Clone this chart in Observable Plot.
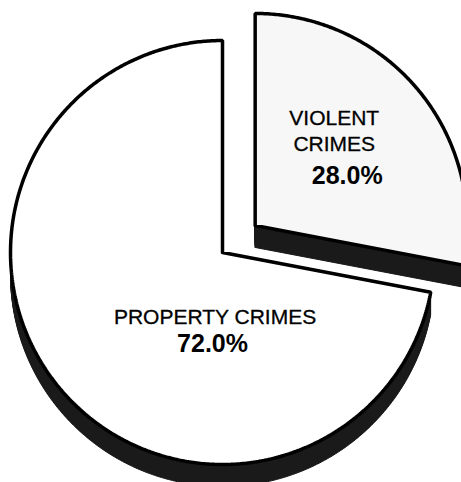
<!DOCTYPE html>
<html><head><meta charset="utf-8">
<script src="https://cdn.jsdelivr.net/npm/d3@7"></script>
<script src="https://cdn.jsdelivr.net/npm/@observablehq/plot@0.6"></script>
<style>html,body{margin:0;padding:0;background:#fff;overflow:hidden}</style>
</head><body><div id="chart"></div>
<script>
// ---- data ----
const categories = ["VIOLENT CRIMES", "PROPERTY CRIMES"];
const nameLines = ["VIOLENT\nCRIMES", "PROPERTY CRIMES"];
const percentages = [28.0, 72.0];
const percentLabels = ["28.0%", "72.0%"];
const exploded = [true, false];

// ---- layout ----
const W = 461, H = 482;
const R = 212;              // pie radius in px
const CX = 222, CY = 252;   // pie centre in px
const explodeBy = 0.2;      // fraction of radius
const depth = 22 / R;       // 3D thickness
const steps = 22;
const faceFill = ["#f7f7f7", "#ffffff"];
const sideFill = "#1a1a1a";
const labelOffsets = [
  {name: [0.373, 0.352], pct: [0.434, 0.195]},
  {name: [-0.035, -0.335], pct: [-0.047, -0.467]}
];

const total = d3.sum(percentages);
let acc = 0;
const slices = categories.map((c, i) => {
  const a0 = acc / total * 2 * Math.PI; acc += percentages[i];
  const a1 = acc / total * 2 * Math.PI;
  const mid = (a0 + a1) / 2;
  return {i, c, a0, a1,
    ox: exploded[i] ? explodeBy * Math.sin(mid) : 0,
    oy: exploded[i] ? explodeBy * Math.cos(mid) : 0};
});
function outline(s, dy, id) {
  const pts = [{x: s.ox, y: s.oy - dy, id}];
  const n = Math.ceil((s.a1 - s.a0) / (Math.PI / 180) * 2);
  for (let k = 0; k <= n; k++) {
    const a = s.a0 + (s.a1 - s.a0) * k / n;
    pts.push({x: s.ox + Math.sin(a), y: s.oy + Math.cos(a) - dy, id});
  }
  pts.push({x: s.ox, y: s.oy - dy, id});
  return pts;
}
const sides = slices.flatMap(s => d3.range(1, steps + 1).flatMap(j => outline(s, depth * j / steps, `${s.i}-${j}`)));
const faces = slices.flatMap(s => outline(s, 0, s.i));

const font = "'Liberation Sans', Arial, Helvetica, sans-serif";
const chart = Plot.plot({
  width: W, height: H, margin: 0,
  x: {domain: [-CX / R, (W - CX) / R], axis: null},
  y: {domain: [(CY - H) / R, CY / R], axis: null},
  style: {background: "#fff"},
  marks: [
    Plot.line(sides, {x: "x", y: "y", z: "id", fill: sideFill, stroke: sideFill, strokeWidth: 1, curve: "linear"}),
    Plot.line(faces, {x: "x", y: "y", z: "id", fill: d => faceFill[d.id], stroke: "#000", strokeWidth: 3.5, strokeLinejoin: "miter", curve: "linear"}),
    Plot.text(slices, {x: d => d.ox + labelOffsets[d.i].name[0], y: d => d.oy + labelOffsets[d.i].name[1],
      text: d => nameLines[d.i], lineAnchor: "bottom", lineHeight: 1.22, fontSize: 21, fontFamily: font, fill: "#000",
      stroke: "#000", strokeWidth: 0.3, letterSpacing: "-0.3px"}),
    Plot.text(slices, {x: d => d.ox + labelOffsets[d.i].pct[0], y: d => d.oy + labelOffsets[d.i].pct[1],
      text: d => percentLabels[d.i], lineAnchor: "bottom", fontSize: 25, fontWeight: "bold", fontFamily: font, fill: "#000"})
  ]
});
document.getElementById("chart").append(chart);
</script>
</body></html>
